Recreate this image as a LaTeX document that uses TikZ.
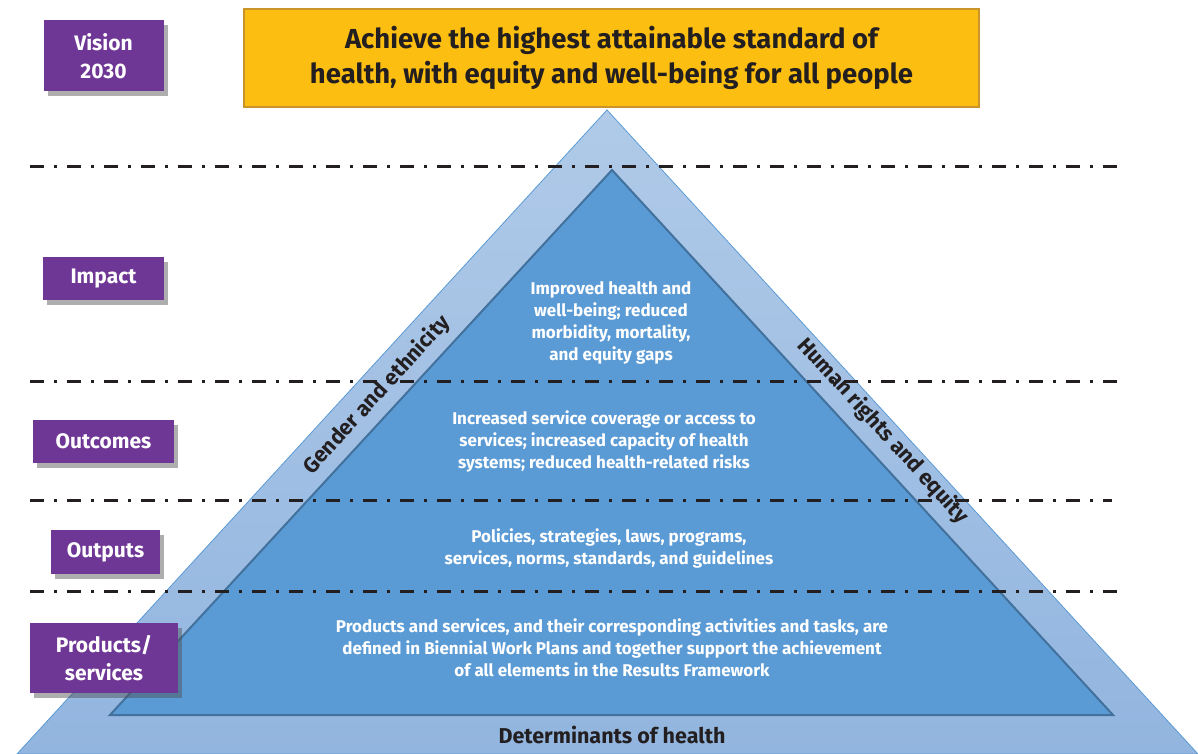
\documentclass[tikz,border=0pt]{standalone}
\usepackage{fontspec}
\setmainfont{Fira Sans}
\usetikzlibrary{shadows}

\definecolor{levelpurple}{HTML}{6F3795}
\definecolor{goalgold}{HTML}{FCBF11}
\definecolor{goaledge}{HTML}{C9952B}
\definecolor{paletop}{HTML}{B0CAE8}
\definecolor{palebottom}{HTML}{92B5DF}
\definecolor{midblue}{HTML}{5B9BD5}
\definecolor{darkedge}{HTML}{41719C}
\definecolor{ink}{HTML}{231F20}

\tikzset{
  level/.style={fill=levelpurple, text=white, align=center, inner sep=0pt,
    font=\bfseries\fontsize{21}{28}\selectfont,
    drop shadow={shadow xshift=4pt, shadow yshift=-5pt, opacity=0.45, fill=black!70}},
  band/.style={text=white, align=center, font=\bfseries\fontsize{17}{22}\selectfont},
  divider/.style={line width=3pt, ink, dash pattern=on 14pt off 10pt on 3pt off 10pt},
  side/.style={text=ink, font=\bfseries\fontsize{21.5}{24}\selectfont}
}

\begin{document}
\begin{tikzpicture}[x=1pt, y=-1pt]
    % one unit = 1pt, y grows downwards
    \useasboundingbox (0, 0) rectangle (1198, 754);

    % the two triangles
    \coordinate (OT) at (607, 110);
    \coordinate (OL) at (17, 754);
    \coordinate (OR) at (1198, 754);
    \coordinate (IT) at (612, 170);
    \coordinate (IL) at (110, 715);
    \coordinate (IR) at (1113, 715);
    \shade[top color=paletop, bottom color=palebottom, draw=midblue, line width=0.8pt] (OT) -- (OL) -- (OR) -- cycle;
    \filldraw[fill=midblue, draw=darkedge, line width=2pt, line join=miter] (IT) -- (IL) -- (IR) -- cycle;

    % dash-dot separators
    \coordinate (s1a) at (30, 167);  \coordinate (s1b) at (1117, 167);
    \coordinate (s2a) at (30, 381);  \coordinate (s2b) at (1120, 381);
    \coordinate (s3a) at (30, 500);  \coordinate (s3b) at (1112, 500);
    \coordinate (s4a) at (30, 591);  \coordinate (s4b) at (1118, 591);
    \draw[divider] (s1a) -- (s1b);
    \draw[divider] (s2a) -- (s2b);
    \draw[divider] (s3a) -- (s3b);
    \draw[divider] (s4a) -- (s4b);

    % goal box
    \node[fill=goalgold, draw=goaledge, line width=1.5pt, minimum width=735pt, minimum height=98pt,
          align=center, text=ink, font=\bfseries\fontsize{27.5}{35}\selectfont] (goal) at (611.5, 58)
        {Achieve the highest attainable standard of\\health, with equity and well-being for all people};

    % levels on the left
    \node[level, minimum width=120pt, minimum height=71pt] (vision) at (103.5, 56) {Vision\\2030};
    \node[level, minimum width=121pt, minimum height=43pt] (impact) at (103.5, 278.5) {Impact};
    \node[level, minimum width=141pt, minimum height=43pt] (outcomes) at (103.5, 441.5) {Outcomes};
    \node[level, minimum width=109pt, minimum height=44pt] (outputs) at (105.5, 552) {Outputs};
    \node[level, minimum width=148pt, minimum height=70pt] (products) at (104, 658) {Products/\\services};

    % text inside the pyramid
    \node[band] (impacttxt) at (611, 323) {Improved health and\\well-being; reduced\\morbidity, mortality,\\and equity gaps};
    \node[band] (outcometxt) at (604, 441) {Increased service coverage or access to\\services; increased capacity of health\\systems; reduced health-related risks};
    \node[band] (outputtxt) at (609, 548) {Policies, strategies, laws, programs,\\services, norms, standards, and guidelines};
    \node[band] (producttxt) at (612, 648) {Products and services, and their corresponding activities and tasks, are\\defined in Biennial Work Plans and together support the achievement\\of all elements in the Results Framework};

    % labels along the sides
    \node[side, rotate=47.5] (gender) at (377, 395) {Gender and ethnicity};
    \node[side, rotate=-47.5] (rights) at (883, 431) {Human rights and equity};
    \node[side] (determinants) at (612, 735) {Determinants of health};
\end{tikzpicture}
\end{document}
